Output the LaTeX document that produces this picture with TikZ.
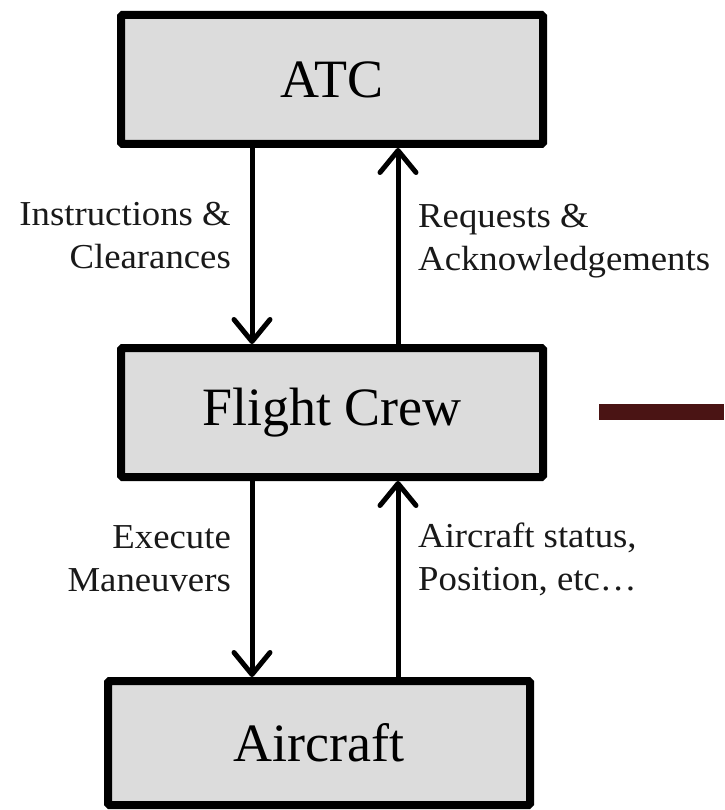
\documentclass[tikz,border=0pt]{standalone}
\usepackage{fontspec}
\setmainfont{Liberation Serif}
\usetikzlibrary{arrows.meta,calc}
\definecolor{boxfill}{RGB}{220,220,220}
\definecolor{barred}{RGB}{74,20,20}
\definecolor{labelink}{RGB}{25,25,25}
\tikzset{
  blockbox/.style={draw=black, fill=boxfill, line width=8pt, rounded corners=1.5pt,
    minimum width=422pt, inner sep=0pt, font=\fontsize{54}{60}\selectfont},
  flowarrow/.style={line width=5pt, -{Straight Barb[length=22pt,width=36pt,round]}},
  flowlabel/.style={inner sep=0pt, text=labelink, transform shape, xscale=1.05,
    font=\fontsize{35}{43}\selectfont}
}
\begin{document}
\begin{tikzpicture}[x=1pt,y=-1pt]
  \useasboundingbox (0,0) rectangle (724,810);

  % the three stages of the loop
  \node[blockbox, minimum height=129pt] (atc) at (332,79.5) {ATC};
  \node[blockbox, minimum height=129pt] (fc)  at (332,412.5) {Flight Crew};
  \node[blockbox, minimum height=124pt] (ac)  at (319,743) {Aircraft};

  % ATC <-> flight crew
  \draw[flowarrow] ([xshift=-80pt]atc.south) -- ([xshift=-80pt]fc.north);
  \draw[flowarrow] ([xshift=66pt]fc.north) -- ([xshift=66pt]atc.south);

  % flight crew <-> aircraft
  \draw[flowarrow] ([xshift=-80pt]fc.south) -- ([xshift=-80pt]fc.south |- ac.north);
  \draw[flowarrow] ([xshift=66pt]fc.south |- ac.north) -- ([xshift=66pt]fc.south);

  % link labels (base anchor sits on the last line)
  \node[flowlabel, anchor=base east, align=right] (l1) at (231,268) {Instructions \&\\Clearances};
  \node[flowlabel, anchor=base west, align=left]  (l2) at (418,270) {Requests \&\\Acknowledgements};
  \node[flowlabel, anchor=base east, align=right] (l3) at (231,591) {Execute\\Maneuvers};
  \node[flowlabel, anchor=base west, align=left]  (l4) at (418,590) {Aircraft status,\\Position, etc\dots};

  % outgoing bar to the right
  \coordinate (barL) at (599,412);
  \coordinate (barR) at (724,412);
  \draw[barred, line width=16pt] (barL) -- (barR);
\end{tikzpicture}
\end{document}
